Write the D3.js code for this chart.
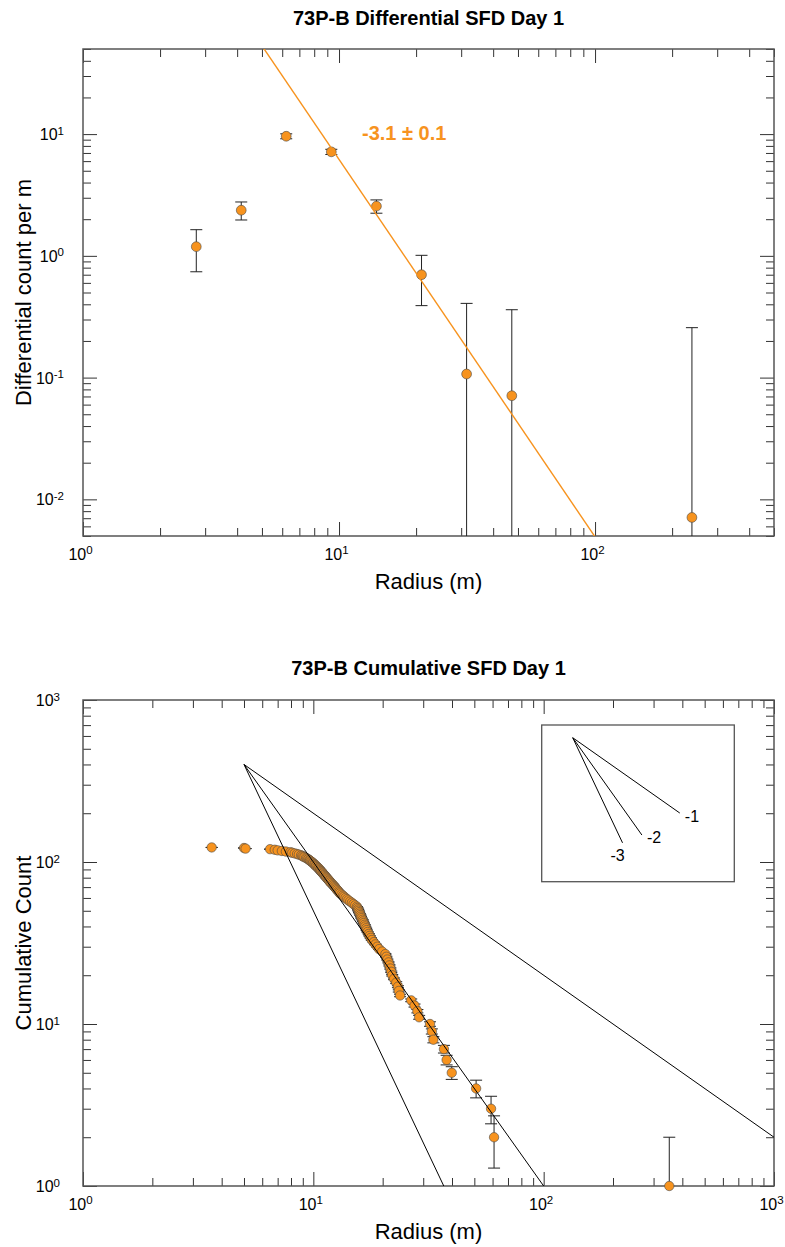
<!DOCTYPE html>
<html>
<head>
<meta charset="utf-8">
<script src="https://cdn.jsdelivr.net/npm/d3@7"></script>
<style>
  body { margin: 0; background: #fff; }
  text { font-family: "Liberation Sans", Arial, Helvetica, sans-serif; fill: #000; }
</style>
</head>
<body>
<svg id="chart" width="785" height="1247"></svg>
<script>
// ---------- Differential SFD, day 1 (bin centre radius in m, count per m, 1-sigma) ----------
const diffRadius = [2.77, 4.15, 6.22, 9.33, 14.0, 21.0, 31.5, 47.3, 239];
const diffCount  = [1.19, 2.37, 9.6, 7.15, 2.56, 0.70, 0.107, 0.071, 0.0071];
const diffErr    = [0.45, 0.40, 0.45, 0.35, 0.32, 0.31, 0.30, 0.29, 0.25];

// power-law fit  N(r) = fitAmp * r^fitSlope
const fitSlope = -3.1;
const fitAmp = 7800;
const fitLabel = "-3.1 ± 0.1";

// ---------- Cumulative SFD, day 1 (radius in m, cumulative count, 1-sigma) ----------
const cumRadius = [
  3.62, 5.00, 5.08, 6.49, 6.80, 7.00, 7.30, 7.60, 7.95, 8.10,
  8.30, 8.50, 8.65, 8.85, 8.95, 9.05, 9.15, 9.30, 9.40, 9.50,
  9.60, 9.67, 9.75, 9.85, 9.95, 10.0, 10.1, 10.15, 10.25, 10.3,
  10.4, 10.5, 10.55, 10.65, 10.7, 10.78, 10.85, 10.95, 11.0, 11.1,
  11.15, 11.25, 11.35, 11.4, 11.5, 11.6, 11.7, 11.75, 11.85, 11.95,
  12.1, 12.2, 12.3, 12.4, 12.5, 12.6, 12.7, 12.85, 12.95, 13.05,
  13.25, 13.45, 13.6, 13.8, 14.0, 14.2, 14.45, 14.7, 14.95, 15.2,
  15.45, 15.55, 15.65, 15.7, 15.8, 15.9, 16.0, 16.1, 16.2, 16.35,
  16.45, 16.55, 16.7, 16.8, 16.95, 17.05, 17.2, 17.4, 17.55, 17.75,
  17.95, 18.3, 18.6, 18.95, 19.3, 19.9, 20.55, 20.75, 20.95, 21.2,
  21.4, 21.6, 21.8, 22.0, 22.4, 22.9, 23.3, 23.5, 23.8, 26.6,
  27.5, 28.3, 28.8, 32.1, 32.7, 33.2, 36.9, 37.9, 39.9, 50.9,
  59.1, 60.9, 351
];
const cumCount = [
  123, 122, 121, 120, 119, 118, 117, 116, 115, 114,
  113, 112, 111, 110, 109, 108, 107, 106, 105, 104,
  103, 102, 101, 100, 99, 98, 97, 96, 95, 94,
  93, 92, 91, 90, 89, 88, 87, 86, 85, 84,
  83, 82, 81, 80, 79, 78, 77, 76, 75, 74,
  73, 72, 71, 70, 69, 68, 67, 66, 65, 64,
  63, 62, 61, 60, 59, 58, 57, 56, 55, 54,
  53, 52, 51, 50, 49, 48, 47, 46, 45, 44,
  43, 42, 41, 40, 39, 38, 37, 36, 35, 34,
  33, 32, 31, 30, 29, 28, 27, 26, 25, 24,
  23, 22, 21, 20, 19, 18, 17, 16, 15, 14,
  13, 12, 11, 10, 9, 8, 7, 6, 5, 4,
  3, 2, 1
];
const cumErr = [
  0.09, 0.09, 0.09, 0.09, 0.09, 0.09, 0.09, 0.09, 0.09, 0.09,
  0.09, 0.09, 0.10, 0.10, 0.10, 0.10, 0.10, 0.10, 0.10, 0.10,
  0.10, 0.10, 0.10, 0.10, 0.10, 0.10, 0.10, 0.10, 0.10, 0.10,
  0.10, 0.10, 0.10, 0.11, 0.11, 0.11, 0.11, 0.11, 0.11, 0.11,
  0.11, 0.11, 0.11, 0.11, 0.11, 0.11, 0.11, 0.12, 0.12, 0.12,
  0.12, 0.12, 0.12, 0.12, 0.12, 0.12, 0.12, 0.12, 0.12, 0.12,
  0.13, 0.13, 0.13, 0.13, 0.13, 0.13, 0.13, 0.13, 0.13, 0.14,
  0.14, 0.14, 0.14, 0.14, 0.14, 0.14, 0.15, 0.15, 0.15, 0.15,
  0.15, 0.15, 0.16, 0.16, 0.16, 0.16, 0.16, 0.17, 0.17, 0.17,
  0.17, 0.18, 0.18, 0.18, 0.19, 0.19, 0.19, 0.20, 0.20, 0.20,
  0.21, 0.21, 0.22, 0.22, 0.23, 0.24, 0.24, 0.25, 0.26, 0.27,
  0.28, 0.29, 0.30, 0.32, 0.33, 0.35, 0.38, 0.41, 0.45, 0.50,
  0.58, 0.71, 1.00
];

// reference power laws through a common anchor point
const refAnchorRadius = 5;
const refAnchorCount = 400;
const refSlopes = [-1, -2, -3];

// slope key: common origin and end radius of each key segment
const keyOrigin = [133.7, 585];
const keyEndRadius = [390, 267, 220];
const keyLabels = ["-1", "-2", "-3"];

// ---------- styling ----------
const ORANGE = "#F7931E";
const svg = d3.select("#chart");

function isDecade(v) {
  const l = Math.log10(v);
  return Math.abs(l - Math.round(l)) < 1e-6;
}

// "10" with a raised exponent
function powerLabel(sel, v) {
  sel.append("tspan").text("10");
  sel.append("tspan").attr("font-size", 11.5).attr("dy", -5.5)
    .text(String(Math.round(Math.log10(v))));
}

function panel(o) {
  const g = svg.append("g");
  const x = d3.scaleLog().domain(o.xDomain).range([o.left, o.right]);
  const y = d3.scaleLog().domain(o.yDomain).range([o.bottom, o.top]);

  g.append("clipPath").attr("id", o.id + "-clip").append("rect")
    .attr("x", o.left).attr("y", o.top)
    .attr("width", o.right - o.left).attr("height", o.bottom - o.top);

  const xt = x.ticks();
  const yt = y.ticks();

  // inward-pointing ticks on all four sides, longer at decades
  function tickSide(axisFn, scale, vals, tx, ty, attr) {
    const a = g.append("g").attr("transform", `translate(${tx},${ty})`)
      .call(axisFn(scale).tickValues(vals).tickSizeInner(-8).tickSizeOuter(0).tickFormat(""));
    a.select(".domain").remove();
    a.selectAll(".tick line").attr("stroke", "#333").attr("stroke-width", 1)
      .filter(d => isDecade(d))
      .attr(attr, function () { return +d3.select(this).attr(attr) * 14 / 8; });
  }
  tickSide(d3.axisBottom, x, xt, 0, o.bottom, "y2");
  tickSide(d3.axisTop, x, xt, 0, o.top, "y2");
  tickSide(d3.axisLeft, y, yt, o.left, 0, "x2");
  tickSide(d3.axisRight, y, yt, o.right, 0, "x2");

  g.append("rect")
    .attr("x", o.left).attr("y", o.top)
    .attr("width", o.right - o.left).attr("height", o.bottom - o.top)
    .attr("fill", "none").attr("stroke", "#555").attr("stroke-width", 1.5);

  // decade labels
  xt.filter(isDecade).forEach(v => {
    g.append("text").attr("x", x(v) - 2.5).attr("y", o.bottom + 23.5)
      .attr("text-anchor", "middle").attr("font-size", 16)
      .call(powerLabel, v);
  });
  yt.filter(isDecade).forEach(v => {
    g.append("text").attr("x", o.yLabelRight).attr("y", y(v) + 6)
      .attr("text-anchor", "end").attr("font-size", 16)
      .call(powerLabel, v);
  });

  // titles
  const cx = (o.left + o.right) / 2;
  g.append("text").attr("x", cx).attr("y", o.titleY)
    .attr("text-anchor", "middle").attr("font-size", 20).attr("font-weight", "bold")
    .text(o.title);
  g.append("text").attr("x", cx).attr("y", o.bottom + 52.5)
    .attr("text-anchor", "middle").attr("font-size", 22)
    .text(o.xTitle);
  g.append("text")
    .attr("transform", `translate(31,${(o.top + o.bottom) / 2}) rotate(-90)`)
    .attr("text-anchor", "middle").attr("font-size", 22)
    .text(o.yTitle);

  return { g, x, y };
}

// error bars with caps; lower ends below the axis run to the frame
function errorBars(p, xs, ys, es, yMin, capHalf) {
  const bars = p.g.append("g").attr("stroke", "#222").attr("stroke-width", 1);
  xs.forEach((r, i) => {
    const hi = ys[i] + es[i];
    const loRaw = ys[i] - es[i];
    const clamped = loRaw <= yMin;
    const lo = clamped ? yMin : loRaw;
    const px = p.x(r);
    bars.append("line").attr("x1", px).attr("x2", px)
      .attr("y1", p.y(hi)).attr("y2", p.y(lo));
    bars.append("line").attr("x1", px - capHalf).attr("x2", px + capHalf)
      .attr("y1", p.y(hi)).attr("y2", p.y(hi));
    if (!clamped) {
      bars.append("line").attr("x1", px - capHalf).attr("x2", px + capHalf)
        .attr("y1", p.y(lo)).attr("y2", p.y(lo));
    }
  });
}

function points(p, xs, ys, r) {
  p.g.append("g").selectAll("circle")
    .data(xs.map((v, i) => [v, ys[i]]))
    .join("circle")
    .attr("cx", d => p.x(d[0])).attr("cy", d => p.y(d[1])).attr("r", r)
    .attr("fill", ORANGE).attr("stroke", "#4a4a4a").attr("stroke-width", 0.6);
}

// ================= Differential SFD =================
const diffPanel = panel({
  id: "diff", left: 83, right: 774, top: 49, bottom: 536,
  xDomain: [1, 500], yDomain: [0.005, 50], yLabelRight: 64,
  titleY: 24.5,
  title: "73P-B Differential SFD Day 1",
  xTitle: "Radius (m)", yTitle: "Differential count per m"
});
errorBars(diffPanel, diffRadius, diffCount, diffErr, 0.005, 6);
points(diffPanel, diffRadius, diffCount, 4.9);

const fitLine = d3.line()
  .x(d => diffPanel.x(d))
  .y(d => diffPanel.y(fitAmp * Math.pow(d, fitSlope)));
diffPanel.g.append("path")
  .attr("clip-path", "url(#diff-clip)")
  .attr("d", fitLine(diffPanel.x.domain()))
  .attr("fill", "none").attr("stroke", ORANGE).attr("stroke-width", 1.4);

diffPanel.g.append("text").attr("x", 362).attr("y", 139.5)
  .attr("font-size", 20).attr("font-weight", "bold").style("fill", ORANGE)
  .text(fitLabel);

// ================= Cumulative SFD =================
const cumPanel = panel({
  id: "cum", left: 83, right: 774, top: 700, bottom: 1186,
  xDomain: [1, 1000], yDomain: [1, 1000], yLabelRight: 60,
  titleY: 675,
  title: "73P-B Cumulative SFD Day 1",
  xTitle: "Radius (m)", yTitle: "Cumulative Count"
});
errorBars(cumPanel, cumRadius, cumCount, cumErr, 1, 6);
points(cumPanel, cumRadius, cumCount, 4.7);

const refLine = s => d3.line()
  .x(d => cumPanel.x(d))
  .y(d => cumPanel.y(refAnchorCount * Math.pow(d / refAnchorRadius, s)));
const refG = cumPanel.g.append("g").attr("clip-path", "url(#cum-clip)");
refSlopes.forEach(s => {
  refG.append("path")
    .attr("d", refLine(s)([refAnchorRadius, cumPanel.x.domain()[1]]))
    .attr("fill", "none").attr("stroke", "#000").attr("stroke-width", 1);
});

// slope key
cumPanel.g.append("rect").attr("x", 541.7).attr("y", 725)
  .attr("width", 192.6).attr("height", 156.7)
  .attr("fill", "none").attr("stroke", "#555").attr("stroke-width", 1.3);
const keyLabelOffset = [[5, 9], [5, 8], [-12, 18]];
refSlopes.forEach((s, i) => {
  const x0 = keyOrigin[0], y0 = keyOrigin[1];
  const x1 = keyEndRadius[i];
  const y1 = y0 * Math.pow(x1 / x0, s);
  cumPanel.g.append("line")
    .attr("x1", cumPanel.x(x0)).attr("y1", cumPanel.y(y0))
    .attr("x2", cumPanel.x(x1)).attr("y2", cumPanel.y(y1))
    .attr("stroke", "#000").attr("stroke-width", 1);
  cumPanel.g.append("text")
    .attr("x", cumPanel.x(x1) + keyLabelOffset[i][0])
    .attr("y", cumPanel.y(y1) + keyLabelOffset[i][1])
    .attr("font-size", 16)
    .text(keyLabels[i]);
});
</script>
</body>
</html>
